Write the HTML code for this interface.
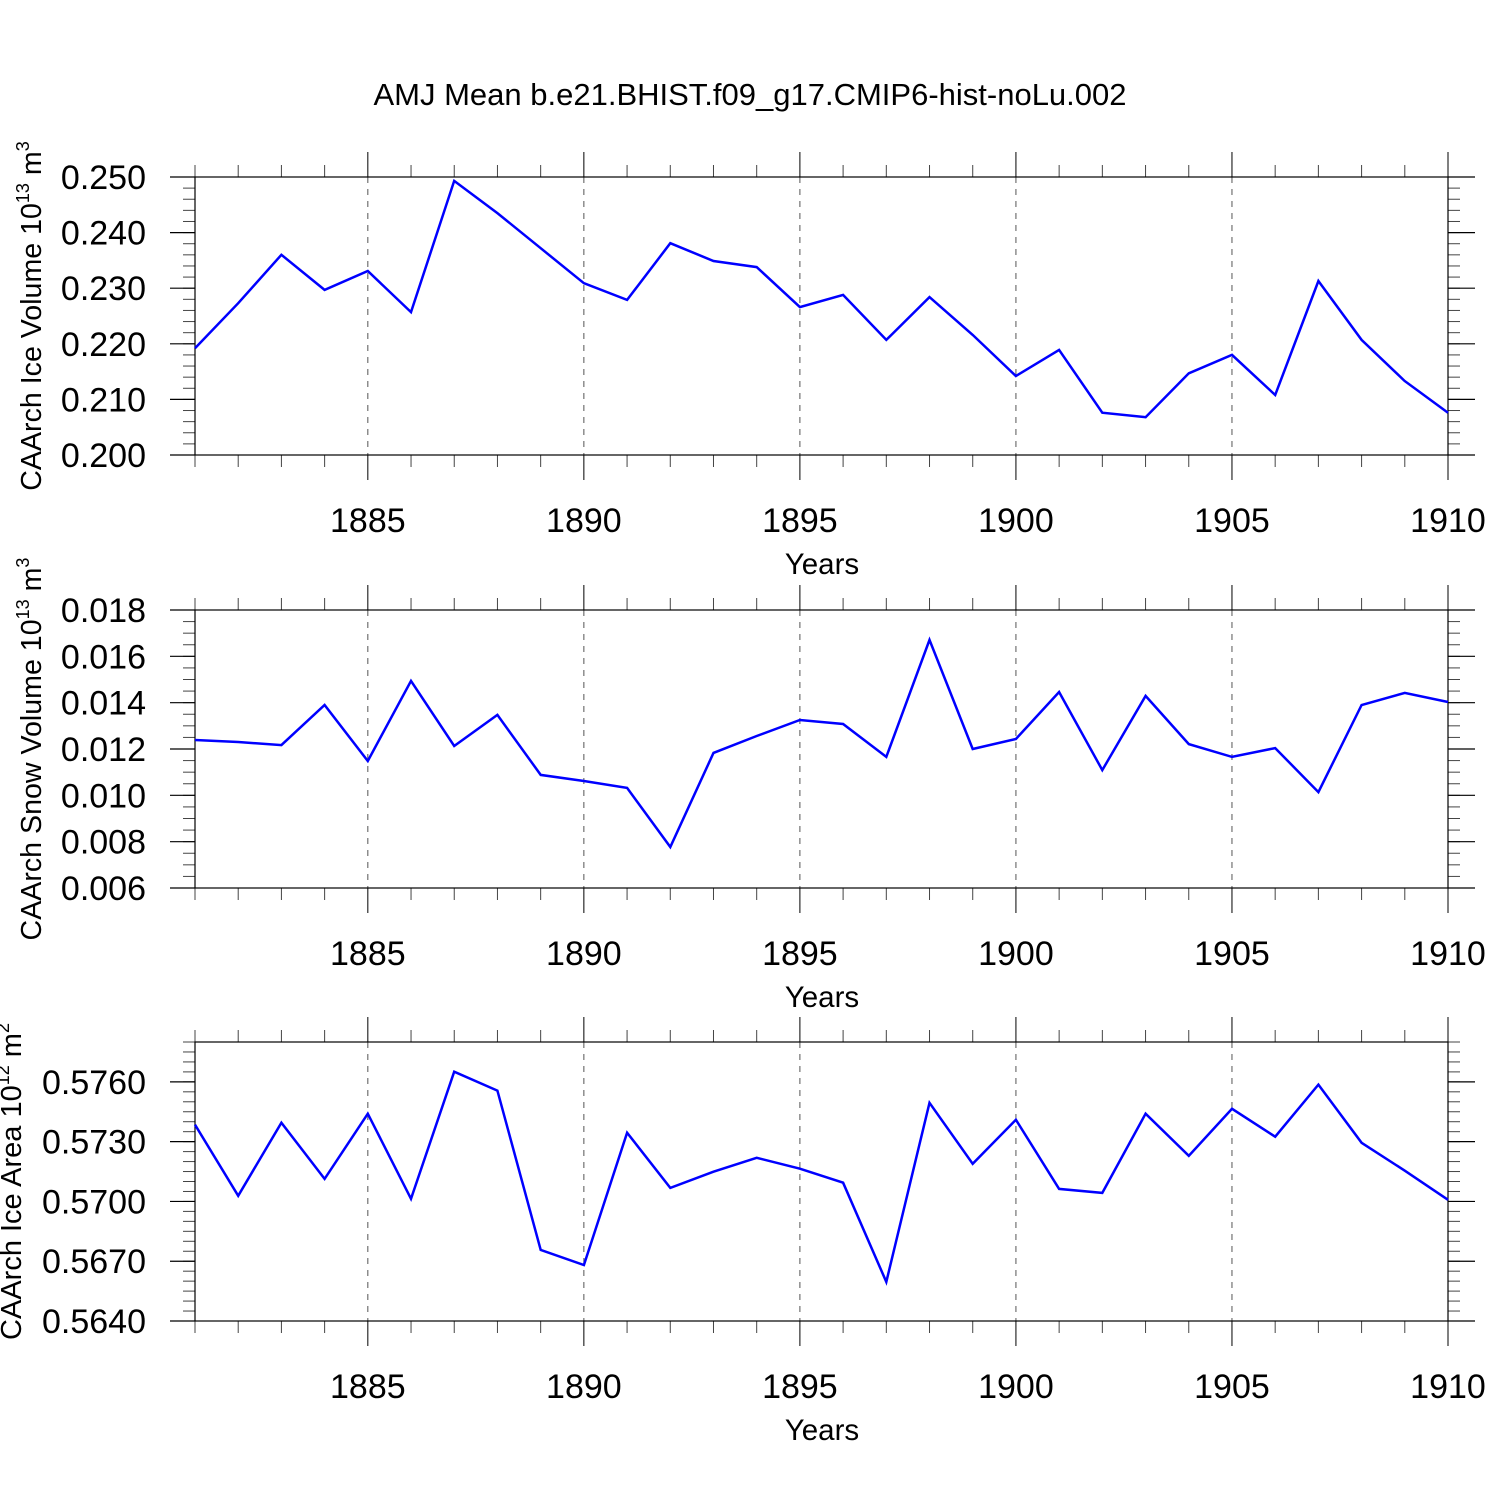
<!DOCTYPE html>
<html><head><meta charset="utf-8"><style>
html,body{margin:0;padding:0;background:#fff;}
svg text{font-family:"Liberation Sans",sans-serif;fill:#000;}
</style></head><body>
<svg id="chart" width="1500" height="1500" viewBox="0 0 1500 1500" xmlns="http://www.w3.org/2000/svg">
<rect width="1500" height="1500" fill="#fff"/>
<text x="750" y="105" text-anchor="middle" font-size="31">AMJ Mean b.e21.BHIST.f09_g17.CMIP6-hist-noLu.002</text>
</svg>
<script>
const years = [1881,1882,1883,1884,1885,1886,1887,1888,1889,1890,1891,1892,1893,1894,1895,1896,1897,1898,1899,1900,1901,1902,1903,1904,1905,1906,1907,1908,1909,1910];
const iceVolume = [0.2192,0.2273,0.2360,0.2297,0.2331,0.2257,0.2493,0.2435,0.2372,0.2309,0.2279,0.2381,0.2349,0.2338,0.2266,0.2288,0.2207,0.2284,0.2216,0.2142,0.2189,0.2076,0.2068,0.2147,0.2180,0.2108,0.2313,0.2207,0.2133,0.2076];
const snowVolume = [0.01239,0.01230,0.01217,0.01390,0.01148,0.01494,0.01213,0.01347,0.01088,0.01062,0.01032,0.00777,0.01183,0.01256,0.01325,0.01308,0.01166,0.01671,0.01200,0.01243,0.01446,0.01109,0.01429,0.01221,0.01166,0.01204,0.01014,0.01390,0.01442,0.01403];
const iceArea = [0.57385,0.57028,0.57395,0.57113,0.57440,0.57013,0.57651,0.57556,0.56757,0.56681,0.57345,0.57068,0.57149,0.57219,0.57164,0.57094,0.56596,0.57495,0.57189,0.57410,0.57063,0.57043,0.57440,0.57229,0.57465,0.57325,0.57586,0.57294,0.57154,0.57008];
const xTickLabels = [1885,1890,1895,1900,1905,1910];
const iceVolumeTicks = [0.200,0.210,0.220,0.230,0.240,0.250];
const snowVolumeTicks = [0.006,0.008,0.010,0.012,0.014,0.016,0.018];
const iceAreaTicks = [0.5640,0.5670,0.5700,0.5730,0.5760];

const svg = document.getElementById('chart');
const NS = 'http://www.w3.org/2000/svg';
function mk(tag, attrs, parent){const e=document.createElementNS(NS,tag);for(const k in attrs)e.setAttribute(k,attrs[k]);(parent||svg).appendChild(e);return e;}
const X0=195, X1=1448, xmin=1881, xmax=1910;
function xs(v){return X0+(v-xmin)/(xmax-xmin)*(X1-X0);}

function panel(cfg){
  const {top,bot,ymin,ymax,ticks,minor,dec,data,label,sup,key}=cfg;
  const ys=v=>bot-(v-ymin)/(ymax-ymin)*(bot-top);
  const g=mk('g',{});
  
  
  for(const t of xTickLabels){
    const l=mk('line',{x1:xs(t),x2:xs(t),y1:top,y2:bot,stroke:'#555','stroke-width':1,'stroke-dasharray':'6,6'},g);
    
    
  }
  for(let v=ymin;v<=ymax+1e-9;v+=minor){
    const y=ys(v);
    mk('line',{x1:183,x2:195,y1:y,y2:y,stroke:'#444','stroke-width':1},g);
    mk('line',{x1:1448,x2:1460,y1:y,y2:y,stroke:'#444','stroke-width':1},g);
  }
  for(const t of ticks){
    const y=ys(t);
    mk('line',{x1:170,x2:195,y1:y,y2:y,stroke:'#000','stroke-width':1.2},g);
    mk('line',{x1:1448,x2:1475,y1:y,y2:y,stroke:'#000','stroke-width':1.2},g);
    const tx=mk('text',{x:146,y:y+12,'text-anchor':'end','font-size':34},g);
    tx.textContent=t.toFixed(dec);
    
    
  }
  for(const yr of years){
    const major=xTickLabels.includes(yr);
    const len=major?25:12;
    const x=xs(yr);
    mk('line',{x1:x,x2:x,y1:top-len,y2:top,stroke:major?'#000':'#444','stroke-width':1},g);
    mk('line',{x1:x,x2:x,y1:bot,y2:bot+len,stroke:major?'#000':'#444','stroke-width':1},g);
  }
  for(const t of xTickLabels){
    const tx=mk('text',{x:xs(t),y:bot+77,'text-anchor':'middle','font-size':34},g);
    tx.textContent=t;
    
    
  }
  const xl=mk('text',{x:822,y:bot+119,'text-anchor':'middle','font-size':29.5},g);
  xl.textContent='Years';
  
  
  const b=mk('rect',{x:X0,y:top,width:X1-X0,height:bot-top,fill:'none',stroke:'#000','stroke-width':1.2},g);
  
  
  const cy=(top+bot)/2;
  const yl=mk('text',{transform:`translate(${cfg.lx},${cy}) rotate(-90)`,'text-anchor':'middle','font-size':cfg.lfs},g);
  yl.textContent=label;
  const sp=document.createElementNS(NS,'tspan');sp.setAttribute('dy','-12');sp.setAttribute('font-size','18');sp.textContent=sup;yl.appendChild(sp);
  const sp2=document.createElementNS(NS,'tspan');sp2.setAttribute('dy','12');sp2.textContent=' m';yl.appendChild(sp2);
  const sp3=document.createElementNS(NS,'tspan');sp3.setAttribute('dy','-12');sp3.setAttribute('font-size','18');sp3.textContent=cfg.unitSup;yl.appendChild(sp3);
  
  
  const pts=data.map((v,i)=>xs(years[i]).toFixed(1)+','+ys(v).toFixed(1)).join(' ');
  const pl=mk('polyline',{points:pts,fill:'none',stroke:'#0000ff','stroke-width':2.5,'stroke-linejoin':'miter'},g);
  
  
}
panel({key:'ice-volume',top:177,bot:455,ymin:0.200,ymax:0.250,ticks:iceVolumeTicks,minor:0.002,dec:3,data:iceVolume,label:'CAArch Ice Volume 10',sup:'13',unitSup:'3',lx:41,lfs:28.6});
panel({key:'snow-volume',top:610,bot:888,ymin:0.006,ymax:0.018,ticks:snowVolumeTicks,minor:0.0005,dec:3,data:snowVolume,label:'CAArch Snow Volume 10',sup:'13',unitSup:'3',lx:41,lfs:28.6});
panel({key:'ice-area',top:1042,bot:1321,ymin:0.5640,ymax:0.5780,ticks:iceAreaTicks,minor:0.0005,dec:4,data:iceArea,label:'CAArch Ice Area 10',sup:'12',unitSup:'2',lx:21,lfs:29});
</script>
</body></html>
